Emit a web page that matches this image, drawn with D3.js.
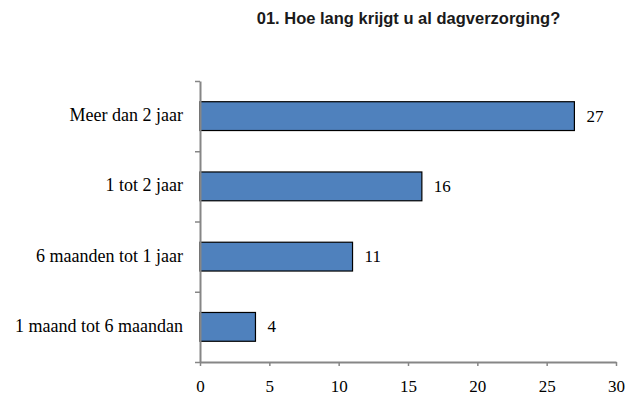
<!DOCTYPE html>
<html>
<head>
<meta charset="utf-8">
<script src="https://cdn.jsdelivr.net/npm/d3@7"></script>
<style>
  body { margin: 0; background: #fff; }
  svg { display: block; }
</style>
</head>
<body>
<div id="chart"></div>
<script>
const title = '01. Hoe lang krijgt u al dagverzorging?';
const categories = ['Meer dan 2 jaar', '1 tot 2 jaar', '6 maanden tot 1 jaar', '1 maand tot 6 maandan'];
const values = [27, 16, 11, 4];
const xTicks = [0, 5, 10, 15, 20, 25, 30];

const width = 629;
const height = 401;
const margin = { top: 81, right: 13, bottom: 39, left: 200 };
const serif = '"Liberation Serif", "Times New Roman", serif';
const axisColor = '#868686';

const svg = d3.select('#chart').append('svg').attr('width', width).attr('height', height);

svg
  .append('text')
  .attr('x', 408.5)
  .attr('y', 24)
  .attr('text-anchor', 'middle')
  .attr('font-family', '"Liberation Sans", Arial, sans-serif')
  .attr('font-weight', 'bold')
  .attr('font-size', 16.5)
  .attr('fill', '#1a1a1a')
  .text(title);

const x = d3.scaleLinear().domain([0, 30]).range([margin.left, width - margin.right]);
const y = d3
  .scaleBand()
  .domain(categories)
  .range([margin.top, height - margin.bottom])
  .paddingInner(0.59)
  .paddingOuter(0.295);

// band boundaries for the category-axis tick marks
const yEdges = d3.scaleLinear().domain([0, categories.length]).range(y.range());

const rows = categories.map((c, i) => ({ cat: c, value: values[i] }));

svg
  .append('g')
  .selectAll('rect')
  .data(rows)
  .enter()
  .append('rect')
  .attr('x', x(0))
  .attr('y', (d) => y(d.cat))
  .attr('width', (d) => x(d.value) - x(0))
  .attr('height', y.bandwidth())
  .attr('fill', '#4f81bd')
  .attr('stroke', '#000')
  .attr('stroke-width', 1.2);

svg
  .append('g')
  .selectAll('text')
  .data(rows)
  .enter()
  .append('text')
  .attr('x', (d) => x(d.value) + 12)
  .attr('y', (d) => y(d.cat) + y.bandwidth() / 2 + 5.5)
  .attr('font-family', serif)
  .attr('font-size', 17)
  .attr('fill', '#000')
  .text((d) => d.value);

const xAxis = svg
  .append('g')
  .attr('transform', `translate(0,${height - margin.bottom})`)
  .call(d3.axisBottom(x).tickValues(xTicks).tickSize(4).tickSizeOuter(0).tickPadding(14));

const yAxis = svg
  .append('g')
  .attr('transform', `translate(${margin.left},0)`)
  .call(d3.axisLeft(yEdges).tickValues(d3.range(categories.length + 1)).tickFormat('').tickSize(5).tickSizeOuter(0));

[xAxis, yAxis].forEach((a) => {
  a.select('.domain').attr('stroke', axisColor).attr('stroke-width', 2);
  a.selectAll('.tick line').attr('stroke', axisColor).attr('stroke-width', 1.5);
});

xAxis.selectAll('.tick text').attr('font-family', serif).attr('font-size', 17).attr('fill', '#000');

svg
  .append('g')
  .selectAll('text')
  .data(categories)
  .enter()
  .append('text')
  .attr('x', margin.left - 17)
  .attr('y', (d) => y(d) + y.bandwidth() / 2 + 5)
  .attr('text-anchor', 'end')
  .attr('font-family', serif)
  .attr('font-size', 18)
  .attr('fill', '#000')
  .text((d) => d);
</script>
</body>
</html>
